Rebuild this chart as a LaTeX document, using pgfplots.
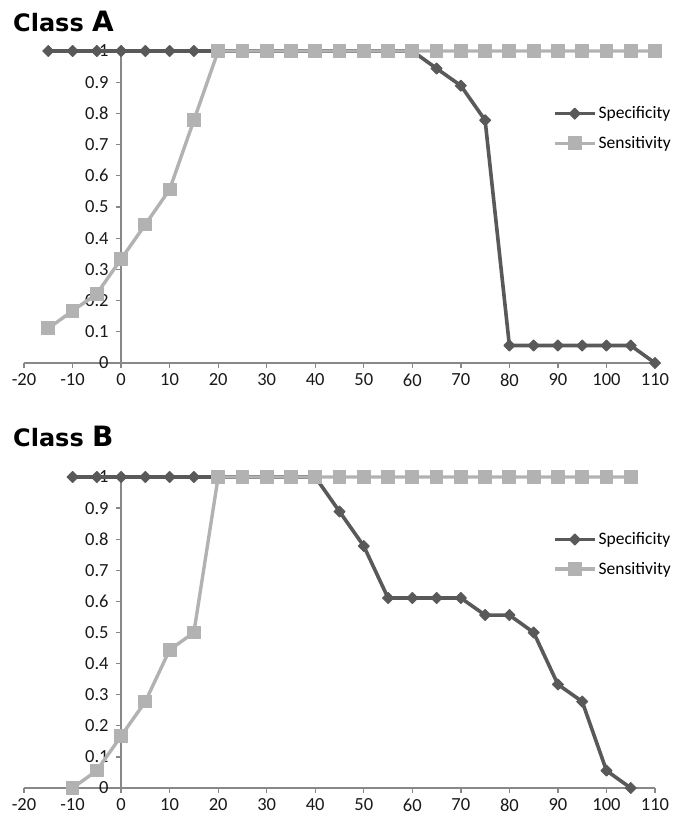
\documentclass[border=0pt]{standalone}
\usepackage{pgfplots}
\pgfplotsset{compat=1.18}
\usepackage{fontspec}
\setmainfont{Carlito}
\newfontfamily\titlefont{DejaVu Sans}
\definecolor{spec}{HTML}{595959}
\definecolor{sens}{HTML}{B2B2B2}
\definecolor{axgray}{HTML}{888888}
\pgfplotsset{
  myaxis/.style={
    scale only axis, width=631pt,
    xmin=-20, xmax=110, ymin=0, ymax=1,
    enlargelimits=false, clip=false,
    axis lines=middle, axis line style={axgray, line width=1.3pt, -},
    hide obscured x ticks=false, hide obscured y ticks=false,
    xtick={-20,-10,0,10,20,30,40,50,60,70,80,90,100,110},
    xticklabels={-20,-10,0,10,20,30,40,50,60,70,80,90,100,110},
    ytick={0,0.1,0.2,0.3,0.4,0.5,0.6,0.7,0.8,0.9,1},
    yticklabels={0,0.1,0.2,0.3,0.4,0.5,0.6,0.7,0.8,0.9,1},
    tick align=outside, major tick length=5pt,
    tick style={axgray, line width=1.3pt},
    ticklabel style={font=\fontsize{18.5}{21}\selectfont, text=black!90},
    xticklabel style={yshift=-2pt},
    yticklabel style={xshift=-4pt},
    legend style={draw=none, fill=none, font=\fontsize{17.5}{20}\selectfont,
      at={(0.838,0.828)}, anchor=north west, inner sep=0pt,
      row sep=12pt, cells={anchor=west}},
    legend image code/.code={\draw[mark repeat=2,mark phase=2,#1] plot coordinates {(0pt,0pt) (20pt,0pt) (40pt,0pt)};},
  },
  specst/.style={color=spec, line width=3.6pt, line join=round, mark=square*, mark size=3.9pt, mark options={rotate=45, solid, line width=1pt}},
  sensst/.style={color=sens, line width=3.4pt, line join=round, mark=square*, mark size=6.4pt, mark options={solid, line width=1pt}},
}
\begin{document}
\begin{tikzpicture}[x=1pt,y=1pt]
\path[use as bounding box] (0,0) rectangle (674,-819);
\node[anchor=base west, inner sep=0pt] at (13,-31) {\titlefont\bfseries\fontsize{24}{28}\selectfont Class \fontsize{28}{30}\selectfont A};
\node[anchor=base west, inner sep=0pt] at (13,-446) {\titlefont\bfseries\fontsize{24}{28}\selectfont Class \fontsize{28}{30}\selectfont B};
\begin{axis}[myaxis, height=312pt, at={(24pt,-363pt)}, anchor=south west]
\addplot[specst] coordinates {
(-15,1) (-10,1) (-5,1) (0,1) (5,1) (10,1) (15,1) (20,1) (25,1) (30,1) (35,1) (40,1) (45,1) (50,1) (55,1) (60,1)
(65,0.944) (70,0.889) (75,0.778) (80,0.056) (85,0.056) (90,0.056) (95,0.056) (100,0.056) (105,0.056) (110,0)
};
\addlegendentry{Specificity}
\addplot[sensst] coordinates {
(-15,0.111) (-10,0.167) (-5,0.222) (0,0.333) (5,0.444) (10,0.556) (15,0.778) (20,1) (25,1) (30,1) (35,1) (40,1) (45,1) (50,1)
(55,1) (60,1) (65,1) (70,1) (75,1) (80,1) (85,1) (90,1) (95,1) (100,1) (105,1) (110,1)
};
\addlegendentry{Sensitivity}
\end{axis}
\begin{axis}[myaxis, height=311pt, at={(24pt,-788pt)}, anchor=south west]
\addplot[specst] coordinates {
(-10,1) (-5,1) (0,1) (5,1) (10,1) (15,1) (20,1) (25,1) (30,1) (35,1) (40,1)
(45,0.889) (50,0.778) (55,0.611) (60,0.611) (65,0.611) (70,0.611) (75,0.556) (80,0.556) (85,0.5) (90,0.333) (95,0.278) (100,0.056) (105,0)
};
\addlegendentry{Specificity}
\addplot[sensst] coordinates {
(-10,0) (-5,0.056) (0,0.167) (5,0.278) (10,0.444) (15,0.5) (20,1) (25,1) (30,1) (35,1) (40,1) (45,1) (50,1) (55,1) (60,1)
(65,1) (70,1) (75,1) (80,1) (85,1) (90,1) (95,1) (100,1) (105,1)
};
\addlegendentry{Sensitivity}
\end{axis}
\end{tikzpicture}
\end{document}
